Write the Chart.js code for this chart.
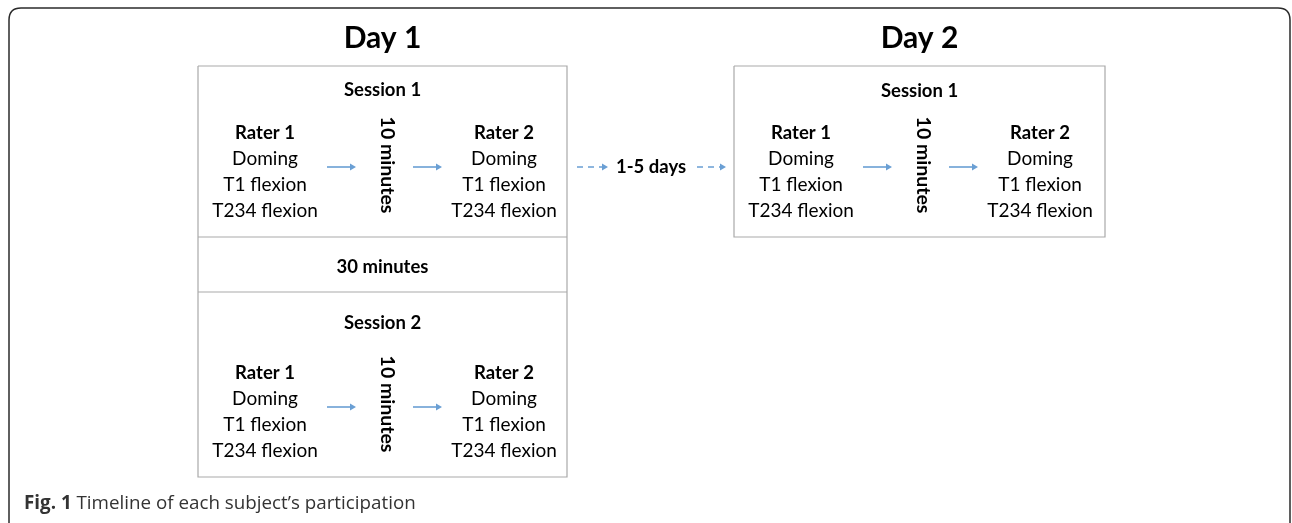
<!DOCTYPE html>
<html>
<head>
<meta charset="utf-8">
<script src="https://cdn.jsdelivr.net/npm/chart.js@4.4.0/dist/chart.umd.min.js"></script>
<style>
  html, body { margin: 0; padding: 0; background: #fff; overflow: hidden; }
  #wrap { width: 1292px; height: 523px; position: relative; }
</style>
</head>
<body>
<div id="wrap"><canvas id="c"></canvas></div>
<script>
// ============ Timeline diagram ============
const DAY_TITLES = ['Day 1', 'Day 2'];
const SESSION_NAMES = ['Session 1', 'Session 2'];
const RATER_NAMES = ['Rater 1', 'Rater 2'];
const TASKS = ['Doming', 'T1 flexion', 'T234 flexion'];
const PAUSE_LABEL = '10 minutes';
const BREAK_LABEL = '30 minutes';
const GAP_LABEL = '1-5 days';
const CAPTION_BOLD = 'Fig. 1';
const CAPTION_TEXT = 'Timeline of each subject\u2019s participation';

// layout in picture units (x 0..1292, y 0..523 top-down)
const DAY_X = [[198, 567], [734, 1105]];
const DAY_TITLE_Y = 38;
const SESSION_BLOCKS = [
  {day: 0, s: 0, top: 66,  bottom: 237, title: 90,  rater: 133, arrow: 167, pause: 165},
  {day: 0, s: 1, top: 292, bottom: 477, title: 323, rater: 373, arrow: 407, pause: 404},
  {day: 1, s: 0, top: 66,  bottom: 237, title: 91,  rater: 133, arrow: 167, pause: 165},
];
const TASK_STEP = 26;
const COLS = [67, 189, 306];            // rater 1, pause, rater 2 (from box left)
const ARROWS_X = [[129, 157], [215, 243]];
const BREAK_Y = 267;
const GAP_Y = 167;
const GAP_ARROWS = [[577, 607], [697, 725]];
const GAP_LABEL_X = 651;
const CAPTION_POS = [24, 504];

const BOX_COLOR = '#a9a9a9';
const ARROW_COLOR = '#6a9fd4';
const FONT = 'Lato, "Open Sans", sans-serif';

// ---- build datasets ----
const datasets = [];
function seg(pts, opts) {
  datasets.push(Object.assign({
    data: pts.map(p => ({x: p[0], y: p[1]})),
    showLine: true, borderColor: BOX_COLOR, borderWidth: 1.2,
    pointRadius: 0, fill: false, tension: 0
  }, opts || {}));
}
function arrow(x0, x1, y, dashed) {
  datasets.push({
    data: [{x: x0, y: y}, {x: x1 - 3, y: y}],
    showLine: true, borderColor: ARROW_COLOR, borderWidth: 1.6,
    borderDash: dashed ? [6, 5] : [],
    pointRadius: [0, 4], pointStyle: 'triangle', rotation: 90,
    pointBackgroundColor: ARROW_COLOR, pointBorderColor: ARROW_COLOR, pointBorderWidth: 0
  });
}

// day boxes
DAY_X.forEach((dx, d) => {
  const bottom = Math.max(...SESSION_BLOCKS.filter(b => b.day === d).map(b => b.bottom));
  seg([[dx[0], 66], [dx[1], 66], [dx[1], bottom], [dx[0], bottom], [dx[0], 66]]);
});
// divider lines around the 30 minute break
seg([[DAY_X[0][0], SESSION_BLOCKS[0].bottom], [DAY_X[0][1], SESSION_BLOCKS[0].bottom]]);
seg([[DAY_X[0][0], SESSION_BLOCKS[1].top], [DAY_X[0][1], SESSION_BLOCKS[1].top]]);
// arrows inside sessions
SESSION_BLOCKS.forEach(b => {
  const left = DAY_X[b.day][0];
  ARROWS_X.forEach(a => arrow(left + a[0], left + a[1], b.arrow, false));
});
GAP_ARROWS.forEach(a => arrow(a[0], a[1], GAP_Y, true));

// ---- texts ----
const TEXTS = [];
DAY_TITLES.forEach((t, d) => TEXTS.push({t, x: (DAY_X[d][0] + DAY_X[d][1]) / 2, y: DAY_TITLE_Y, font: 'bold 30px ' + FONT}));
SESSION_BLOCKS.forEach(b => {
  const left = DAY_X[b.day][0];
  const cx = (DAY_X[b.day][0] + DAY_X[b.day][1]) / 2;
  TEXTS.push({t: SESSION_NAMES[b.s], x: cx, y: b.title, font: 'bold 18.5px ' + FONT});
  [0, 2].forEach((c, r) => {
    TEXTS.push({t: RATER_NAMES[r], x: left + COLS[c], y: b.rater, font: 'bold 18.5px ' + FONT});
    TASKS.forEach((task, i) => TEXTS.push({t: task, x: left + COLS[c], y: b.rater + TASK_STEP * (i + 1), font: '19px ' + FONT}));
  });
  TEXTS.push({t: PAUSE_LABEL, x: left + COLS[1], y: b.pause, font: 'bold 19.5px ' + FONT, rot: Math.PI / 2});
});
TEXTS.push({t: BREAK_LABEL, x: (DAY_X[0][0] + DAY_X[0][1]) / 2, y: BREAK_Y, font: 'bold 18.5px ' + FONT});
TEXTS.push({t: GAP_LABEL, x: GAP_LABEL_X, y: GAP_Y, font: 'bold 18.5px ' + FONT});

const textPlugin = {
  id: 'diagramText',
  beforeDraw(chart) {
    const {ctx, scales: {x, y}} = chart;
    ctx.save();
    ctx.fillStyle = '#fff';
    ctx.fillRect(0, 0, chart.width, chart.height);
    // outer rounded frame
    const l = x.getPixelForValue(9), t = y.getPixelForValue(8);
    const r = x.getPixelForValue(1290), b = y.getPixelForValue(535), rad = 12;
    ctx.strokeStyle = '#2b2b2b';
    ctx.lineWidth = 1.5;
    ctx.beginPath();
    ctx.moveTo(l, b);
    ctx.lineTo(l, t + rad);
    ctx.quadraticCurveTo(l, t, l + rad, t);
    ctx.lineTo(r - rad, t);
    ctx.quadraticCurveTo(r, t, r, t + rad);
    ctx.lineTo(r, b);
    ctx.stroke();
    ctx.restore();
  },
  afterDatasetsDraw(chart) {
    const {ctx, scales: {x, y}} = chart;
    ctx.save();
    ctx.fillStyle = '#000';
    ctx.textAlign = 'center';
    ctx.textBaseline = 'middle';
    TEXTS.forEach(o => {
      ctx.save();
      ctx.font = o.font;
      ctx.translate(x.getPixelForValue(o.x), y.getPixelForValue(o.y));
      if (o.rot) ctx.rotate(o.rot);
      ctx.fillText(o.t, 0, 0);
      ctx.restore();
    });
    // caption
    ctx.textAlign = 'left';
    ctx.fillStyle = '#333';
    const cx = x.getPixelForValue(CAPTION_POS[0]), cy = y.getPixelForValue(CAPTION_POS[1]);
    ctx.font = 'bold 18.8px "Open Sans", sans-serif';
    ctx.fillText(CAPTION_BOLD, cx, cy);
    const w = ctx.measureText(CAPTION_BOLD + ' ').width;
    ctx.font = '18.8px "Open Sans", sans-serif';
    ctx.fillText(CAPTION_TEXT, cx + w, cy);
    ctx.restore();
  }
};

new Chart(document.getElementById('c'), {
  type: 'scatter',
  data: {datasets},
  options: {
    responsive: true, maintainAspectRatio: false, animation: false,
    layout: {padding: 0, autoPadding: false},
    plugins: {legend: {display: false}, tooltip: {enabled: false}},
    scales: {
      x: {type: 'linear', min: 0, max: 1292, display: false},
      y: {type: 'linear', min: 0, max: 523, reverse: true, display: false}
    }
  },
  plugins: [textPlugin]
});
</script>
</body>
</html>
